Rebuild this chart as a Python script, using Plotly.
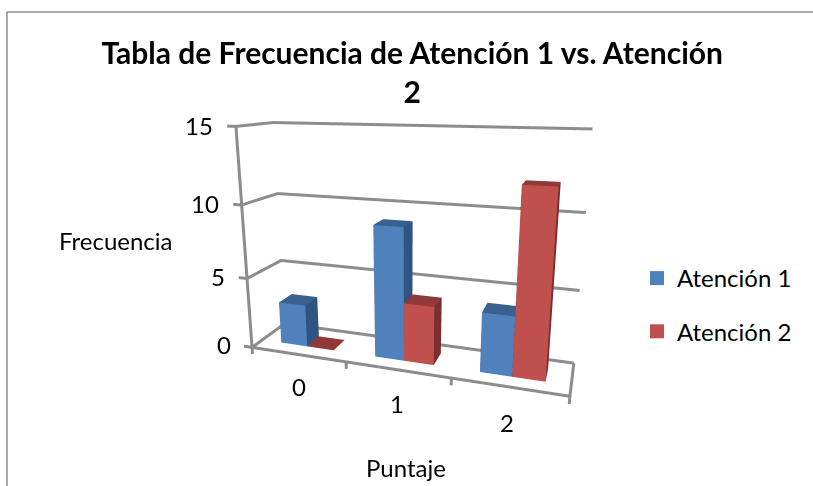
import plotly.graph_objects as go

categories = ["0", "1", "2"]
atencion_1 = [3, 9, 4]
atencion_2 = [0, 4, 12]
z_ticks = [0, 5, 10, 15]

W, H = 813, 486
ex, ey, ez = 0.5287, -1.6182, 0.4615
cx, cy, cz = -0.0075, 0.0056, 0.0108
ay, az = 0.2112, 0.7066

fig = go.Figure()
BLUE = ("#4F81BD", "#3A6090", "#2F5480")
RED = ("#C0504D", "#8F3A38", "#7B2F2E")


def box(x0, x1, y0, y1, z1, cols, name):
    X = [x0, x1, x1, x0, x0, x1, x1, x0]
    Y = [y0, y0, y1, y1, y0, y0, y1, y1]
    Z = [0, 0, 0, 0, z1, z1, z1, z1]
    i = [0, 0, 4, 4, 1, 1, 3, 3, 0, 0]
    j = [1, 5, 5, 6, 2, 6, 2, 6, 3, 7]
    k = [5, 4, 6, 7, 6, 5, 6, 7, 7, 4]
    fc = [cols[0]] * 2 + [cols[1]] * 2 + [cols[2]] * 6
    fig.add_trace(go.Mesh3d(x=X, y=Y, z=Z, i=i, j=j, k=k, facecolor=fc, flatshading=True, name=name,
                            showlegend=False, hoverinfo="skip",
                            lighting=dict(ambient=1, diffuse=0, specular=0, fresnel=0, roughness=1)))


bw = 1 / 3.5
for c in range(3):
    x0 = c + 1.5 * bw / 2
    box(x0, x0 + bw, 0.3, 0.7, atencion_1[c], BLUE, "Atención 1")
    box(x0 + bw, x0 + 2 * bw, 0.3, 0.7, atencion_2[c], RED, "Atención 2")


def line(xs, ys, zs):
    fig.add_trace(go.Scatter3d(x=xs, y=ys, z=zs, mode="lines", line=dict(color="#8C8C8C", width=6),
                               showlegend=False, hoverinfo="skip"))


n = len(categories)
for t in z_ticks:
    line([n, 0, 0, -0.09], [1, 1, 0, 0], [t, t, t, t])
line([0, 0], [0, 0], [0, 15])
line([0, n, n], [0, 0, 1], [0, 0, 0])
for c in range(0, n + 1):
    line([c, c], [0, 0], [0, -0.5])
for name, col in (("Atención 1", BLUE[0]), ("Atención 2", RED[0])):
    fig.add_trace(go.Scatter3d(x=[None], y=[None], z=[None], mode="markers", name=name, legendgroup=name,
                               marker=dict(symbol="square", size=14, color=col)))
ann = [dict(x=-0.22, y=0, z=t, text=str(t), showarrow=False, xanchor="right",
            font=dict(size=24, color="black", family="Lato")) for t in z_ticks]
ann += [dict(x=c + 0.5, y=0, z=-2.4, text=categories[c], showarrow=False,
             font=dict(size=24, color="black", family="Lato")) for c in range(n)]
fig.update_layout(
    width=W, height=H, margin=dict(l=0, r=0, t=0, b=0), paper_bgcolor="white",
    font=dict(family="Lato", color="black", size=24),
    title=dict(text="<b>Tabla de Frecuencia de Atención 1 vs. Atención<br>2</b>", x=0.507, xanchor="center",
               y=1 - 63.5 / 486, yanchor="middle", font=dict(size=30, family="Lato", color="black")),
    legend=dict(x=0.7835, y=1 - 305 / 486, xanchor="left", yanchor="middle", tracegroupgap=19,
                traceorder="grouped", font=dict(size=24)),
    scene=dict(domain=dict(x=[0, 1], y=[0, 1]),
               xaxis=dict(range=[-1, n + 1], visible=False),
               yaxis=dict(range=[-1, 2], visible=False),
               zaxis=dict(range=[-5, 20], visible=False),
               aspectmode="manual", aspectratio=dict(x=5 / 3, y=3 * ay, z=25 / 15 * az),
               camera=dict(eye=dict(x=ex, y=ey, z=ez), center=dict(x=cx, y=cy, z=cz), up=dict(x=0, y=0, z=1),
                           projection=dict(type="perspective")),
               annotations=ann),
    shapes=[dict(type="line", xref="paper", yref="paper", x0=7 / 813, x1=1, y0=1 - 12 / 486, y1=1 - 12 / 486,
                 line=dict(color="#8C8C8C", width=1.5)),
            dict(type="line", xref="paper", yref="paper", x0=7 / 813, x1=7 / 813, y0=1 - 12 / 486, y1=0,
                 line=dict(color="#8C8C8C", width=1.5))],
    annotations=[dict(xref="paper", yref="paper", x=116 / 813, y=1 - 240 / 486, xanchor="center", yanchor="middle",
                      text="Frecuencia", showarrow=False, font=dict(size=24)),
                 dict(xref="paper", yref="paper", x=406 / 813, y=1 - 467 / 486, xanchor="center", yanchor="middle",
                      text="Puntaje", showarrow=False, font=dict(size=24))],
)
fig.write_html("out.html", post_script="document.body.style.margin='0';", config=dict(displayModeBar=False))
